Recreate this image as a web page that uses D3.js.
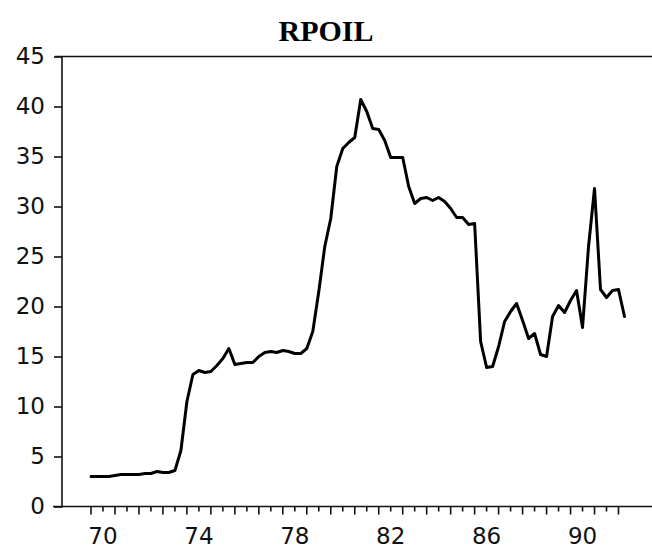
<!DOCTYPE html>
<html>
<head>
<meta charset="utf-8">
<script src="https://cdnjs.cloudflare.com/ajax/libs/d3/7.8.5/d3.min.js"></script>
<style>
  body { margin: 0; background: #fff; }
  svg { display: block; }
</style>
</head>
<body>
<svg id="chart"></svg>
<script>
(function() {

  // quarterly real oil price, 1970Q1 .. 1992Q2
  var startYear = 1970;
  var rpoil = [
    3.0, 3.0, 3.0, 3.0, 3.1, 3.2, 3.2, 3.2, 3.2, 3.3, 3.3, 3.5, 3.4, 3.4, 3.6,
    5.6, 10.5, 13.2, 13.6, 13.4, 13.5, 14.1, 14.8, 15.8, 14.2, 14.3, 14.4, 14.4, 15.0, 15.4,
    15.5, 15.4, 15.6, 15.5, 15.3, 15.3, 15.8, 17.5, 21.5, 26.0, 28.8, 34.0, 35.8, 36.4, 36.9,
    40.7, 39.5, 37.8, 37.7, 36.6, 34.9, 34.9, 34.9, 32.0, 30.3, 30.8, 30.9, 30.6, 30.9, 30.5,
    29.8, 28.9, 28.9, 28.2, 28.3, 16.5, 13.9, 14.0, 16.0, 18.5, 19.5, 20.3, 18.6, 16.8, 17.3,
    15.2, 15.0, 19.0, 20.1, 19.4, 20.6, 21.6, 17.9, 26.0, 31.8, 21.7, 20.9, 21.6, 21.7, 19.0
  ];
  var yTicks = [0, 5, 10, 15, 20, 25, 30, 35, 40, 45];
  var xLabelYears = [1970, 1974, 1978, 1982, 1986, 1990];
  var xLabels = ['70', '74', '78', '82', '86', '90'];

  var WIDTH = 652;
  var HEIGHT = 548;
  var svg = d3.select('#chart').attr('width', WIDTH).attr('height', HEIGHT);

  var x = d3.scaleLinear().domain([1970, 1992]).range([91, 618.5]);
  var y = d3.scaleLinear().domain([0, 45]).range([506.5, 56.5]);
  var axisX = 62;

  // title
  svg.append('text')
    .attr('x', 326)
    .attr('y', 41)
    .attr('text-anchor', 'middle')
    .style('font-family', '"Liberation Serif", "Times New Roman", serif')
    .style('font-weight', 'bold')
    .style('font-size', '30px')
    .text('RPOIL');

  var axisColor = '#111';
  var labelFont = '"DejaVu Sans", sans-serif';

  // frame: left axis, top line, bottom axis
  svg.append('line')
    .attr('x1', axisX).attr('x2', axisX)
    .attr('y1', y(45)).attr('y2', y(0) + 1)
    .attr('stroke', axisColor).attr('stroke-width', 1.6);
  svg.append('line')
    .attr('x1', 55).attr('x2', WIDTH)
    .attr('y1', y(45)).attr('y2', y(45))
    .attr('stroke', axisColor).attr('stroke-width', 1.6);
  svg.append('line')
    .attr('x1', 53).attr('x2', WIDTH)
    .attr('y1', y(0)).attr('y2', y(0))
    .attr('stroke', axisColor).attr('stroke-width', 1.6);

  // y axis ticks + labels
  var yAxis = d3.axisLeft(y)
    .tickValues(yTicks)
    .tickSize(8)
    .tickPadding(9)
    .tickFormat(d3.format('d'));
  var gy = svg.append('g')
    .attr('transform', 'translate(' + axisX + ',0)')
    .call(yAxis);
  gy.select('.domain').remove();
  gy.selectAll('.tick line').attr('stroke', axisColor).attr('stroke-width', 1.6);
  gy.selectAll('.tick text')
    .attr('fill', '#111')
    .style('font-family', labelFont)
    .style('font-size', '23px');

  // x axis: half-year ticks, longer on whole years
  var halfYears = d3.range(0, 45).map(function(k) { return 1970 + k / 2; });
  svg.append('g').selectAll('line')
    .data(halfYears)
    .enter().append('line')
    .attr('x1', function(d) { return x(d); })
    .attr('x2', function(d) { return x(d); })
    .attr('y1', y(0))
    .attr('y2', function(d) { return y(0) + (d % 1 === 0 ? 8 : 5); })
    .attr('stroke', axisColor)
    .attr('stroke-width', 1.6);

  svg.append('g').selectAll('text')
    .data(xLabelYears)
    .enter().append('text')
    .attr('x', function(d) { return x(d + 0.5); })
    .attr('y', 544)
    .attr('text-anchor', 'middle')
    .attr('fill', '#111')
    .style('font-family', labelFont)
    .style('font-size', '23px')
    .text(function(d, i) { return xLabels[i]; });

  // the series
  var line = d3.line()
    .x(function(d, i) { return x(startYear + i / 4); })
    .y(function(d) { return y(d); });

  svg.append('path')
    .datum(rpoil)
    .attr('d', line)
    .attr('fill', 'none')
    .attr('stroke', '#000')
    .attr('stroke-width', 3)
    .attr('stroke-linejoin', 'round')
    .attr('stroke-linecap', 'round');

})();
</script>
</body>
</html>
